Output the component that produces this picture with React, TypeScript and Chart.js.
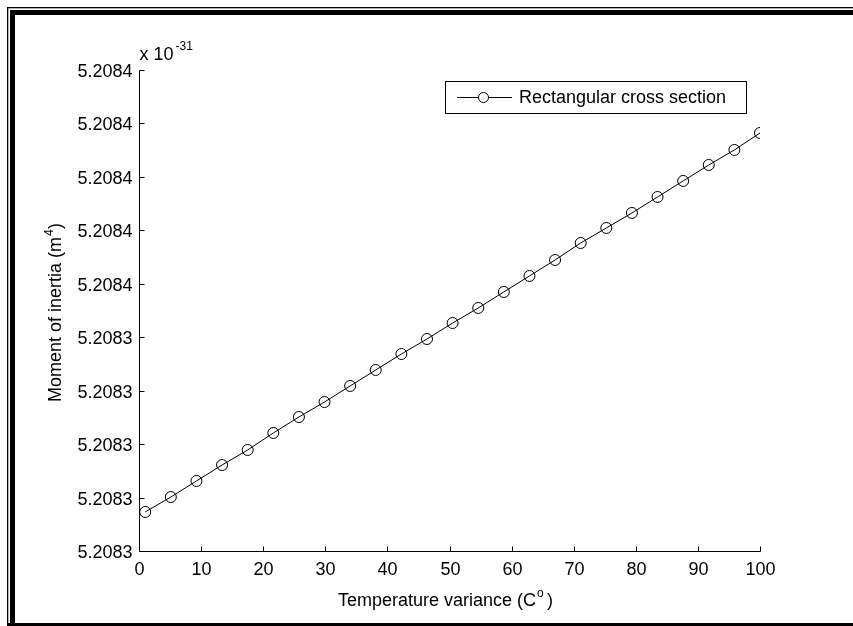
import React, { useEffect, useRef } from "react";
import { Chart, registerables } from "chart.js";

Chart.register(...registerables);

// Temperature variance (x) for each marker
const xValues = [
  1, 5.125, 9.25, 13.375, 17.5, 21.625, 25.75, 29.875, 34, 38.125, 42.25, 46.375,
  50.5, 54.625, 58.75, 62.875, 67, 71.125, 75.25, 79.375, 83.5, 87.625, 91.75, 95.875, 100,
];
// Moment of inertia, in units of the y tick step above the lowest tick
const yValues = [
  0.73, 1.01, 1.31, 1.609, 1.89, 2.208, 2.507, 2.788, 3.088, 3.387, 3.686, 3.967,
  4.266, 4.547, 4.847, 5.146, 5.445, 5.763, 6.044, 6.325, 6.624, 6.924, 7.223, 7.504, 7.822,
];
const xTicks = [0, 10, 20, 30, 40, 50, 60, 70, 80, 90, 100];
const yTickLabels = [
  "5.2083", "5.2083", "5.2083", "5.2083", "5.2083",
  "5.2084", "5.2084", "5.2084", "5.2084", "5.2084",
];
const seriesLabel = "Rectangular cross section";
const xTitle = "Temperature variance (C";
const yTitle = "Moment of inertia (m";
const exponentLabel = "-31";

const FONT = "Arial, 'Liberation Sans', Helvetica, sans-serif";

const decorPlugin = {
  id: "decor",
  beforeDraw(chart: any) {
    const ctx = chart.ctx;
    const W = chart.width;
    const H = chart.height;
    ctx.save();
    ctx.fillStyle = "#fff";
    ctx.fillRect(0, 0, W, H);
    ctx.fillStyle = "#000";
    // thin outer lines
    ctx.fillRect(7, 7, W - 7, 1.3);
    ctx.fillRect(7, 7, 1.3, H - 7);
    // thick lines
    ctx.fillRect(10, 10, W - 10, 5);
    ctx.fillRect(10, 10, 5, H - 10);
    // bottom
    ctx.fillRect(7, H - 3, W - 7, 3);
    ctx.restore();
  },
  afterDraw(chart: any) {
    const ctx = chart.ctx;
    const xs = chart.scales.x;
    const ys = chart.scales.y;
    const area = chart.chartArea;
    const left = Math.round(area.left) + 0.5;
    const bottom = Math.round(area.bottom) + 0.5;
    ctx.save();
    ctx.strokeStyle = "#000";
    ctx.fillStyle = "#000";
    ctx.lineWidth = 1;
    // axes lines
    ctx.beginPath();
    ctx.moveTo(left, Math.round(area.top) + 0.5);
    ctx.lineTo(left, bottom);
    ctx.lineTo(Math.round(area.right) + 0.5, bottom);
    ctx.stroke();
    // x ticks
    ctx.font = `18px ${FONT}`;
    ctx.textAlign = "center";
    ctx.textBaseline = "middle";
    xTicks.forEach((t) => {
      const px = Math.round(xs.getPixelForValue(t)) + 0.5;
      ctx.beginPath();
      ctx.moveTo(px, bottom);
      ctx.lineTo(px, bottom - 5);
      ctx.stroke();
      ctx.fillText(String(t), px, bottom + 19);
    });
    // y ticks
    ctx.textAlign = "right";
    yTickLabels.forEach((lab, i) => {
      const py = Math.round(ys.getPixelForValue(i)) + 0.5;
      ctx.beginPath();
      ctx.moveTo(left, py);
      ctx.lineTo(left + 5, py);
      ctx.stroke();
      ctx.fillText(lab, left - 7, py + 2);
    });
    // exponent
    ctx.textAlign = "left";
    ctx.textBaseline = "alphabetic";
    ctx.fillText("x 10", left, area.top - 10);
    ctx.font = `12px ${FONT}`;
    ctx.fillText(exponentLabel, left + 36, area.top - 20);
    // x title
    ctx.font = `18px ${FONT}`;
    const xw = ctx.measureText(xTitle).width;
    const xStart = 338;
    ctx.fillText(xTitle, xStart, 606);
    ctx.font = `12px ${FONT}`;
    ctx.fillText("o", xStart + xw + 1, 597);
    ctx.font = `18px ${FONT}`;
    ctx.fillText(" )", xStart + xw + 6, 606);
    // y title
    ctx.save();
    ctx.translate(61, 0);
    ctx.rotate(-Math.PI / 2);
    const yw = ctx.measureText(yTitle).width;
    const yStart = -402;
    ctx.fillText(yTitle, yStart, 0);
    ctx.font = `12px ${FONT}`;
    ctx.fillText("4", yStart + yw + 1, -8);
    ctx.font = `18px ${FONT}`;
    ctx.fillText(")", yStart + yw + 8, 0);
    ctx.restore();
    // legend
    const bx = 445.5, by = 81.5, bw = 301, bh = 32;
    ctx.fillStyle = "#fff";
    ctx.fillRect(bx, by, bw, bh);
    ctx.strokeRect(bx, by, bw, bh);
    ctx.fillStyle = "#000";
    const ly = 97.5;
    ctx.beginPath();
    ctx.moveTo(457, ly);
    ctx.lineTo(512, ly);
    ctx.stroke();
    ctx.beginPath();
    ctx.arc(483.5, ly, 5, 0, Math.PI * 2);
    ctx.fillStyle = "#fff";
    ctx.fill();
    ctx.stroke();
    ctx.fillStyle = "#000";
    ctx.font = `18px ${FONT}`;
    ctx.textBaseline = "middle";
    ctx.fillText(seriesLabel, 519, ly + 1);
    ctx.restore();
  },
};

export default function App() {
  const ref = useRef<HTMLCanvasElement | null>(null);
  useEffect(() => {
    if (!ref.current) return;
    const chart = new Chart(ref.current, {
      type: "line",
      data: {
        datasets: [
          {
            label: seriesLabel,
            data: xValues.map((x, i) => ({ x, y: yValues[i] })),
            borderColor: "#000",
            borderWidth: 1,
            pointRadius: 5.5,
            pointBorderWidth: 1,
            pointBorderColor: "#000",
            pointBackgroundColor: "rgba(0,0,0,0)",
            tension: 0,
          },
        ],
      },
      options: {
        responsive: false,
        animation: false,
        devicePixelRatio: 1,
        layout: { padding: { left: 139, right: 93, top: 70, bottom: 75 } },
        scales: {
          x: { type: "linear", min: 0, max: 100, display: false },
          y: { type: "linear", min: 0, max: 9, display: false },
        },
        plugins: { legend: { display: false }, tooltip: { enabled: false } },
      },
      plugins: [decorPlugin],
    });
    return () => chart.destroy();
  }, []);
  return (
    <div style={{ position: "absolute", left: 0, top: 0, width: 853, height: 626, background: "#fff" }}>
      <canvas ref={ref} width={853} height={626} style={{ display: "block" }} />
    </div>
  );
}
